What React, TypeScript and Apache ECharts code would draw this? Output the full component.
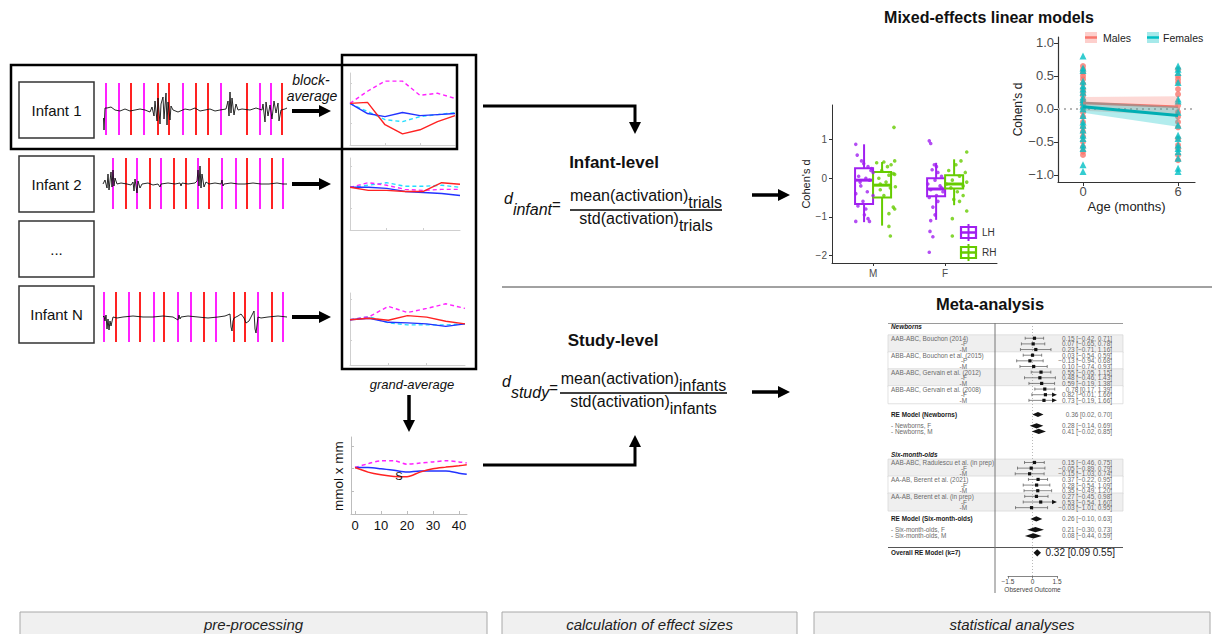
import React, { useEffect, useRef } from "react";
import * as echarts from "echarts";

const FONT = "'Liberation Sans', Arial, Helvetica, sans-serif";
const MAGENTA = "#FF22FF";
const RED = "#FF2222";
const BLUE = "#2233FF";
const CYAN = "#22DDFF";
const PURPLE = "#A020F0";
const GREEN = "#66CC00";
const MALE = "#F8766D";
const FEMALE = "#00BFC4";

// ---------------- pre-processing: raw signals ----------------
const infantLabels = ["Infant 1", "Infant 2", "...", "Infant N"];
// stimulus onsets (s) and condition (A = magenta, B = red)
const onsets1 = [2.3, 16, 27.3, 41, 54.7, 66, 79.3, 93, 104.3, 117.7, 143.3, 156.7, 167.7, 178.7];
const conds1 = ["A", "A", "B", "A", "B", "B", "A", "B", "B", "A", "B", "A", "A", "B"];
const onsets2 = [9.7, 22.7, 33.7, 47, 58, 71, 82.3, 95, 105.7, 119, 132.3, 143.7, 157, 168.7, 179.7];
const conds2 = ["A", "B", "A", "B", "A", "B", "B", "A", "B", "A", "A", "B", "A", "B", "A"];
const onsetsN = [1, 12.3, 25.3, 36.7, 50.3, 61, 74.7, 88, 101, 113, 130.3, 142, 154.7, 168.7, 179.7];
const condsN = ["A", "B", "A", "B", "A", "B", "A", "A", "B", "A", "B", "B", "A", "B", "A"];

const signal1 = [[0.5, -8], [1, -20], [2, 2], [4, 2], [8, 3], [12, 0], [17, -1], [22, 1], [27, -1], [32, 0], [37, 1], [42, 0], [47, -2], [49, 3], [51, -6], [52, 9], [54, -11], [55, 12], [57, -14], [58, 6], [60, 13], [61, -9], [63, 17], [64, -15], [65, 8], [67, -10], [68, 4], [70, 0], [75, -2], [82, 1], [87, 0], [92, 2], [97, -1], [102, 0], [107, 1], [112, -1], [117, 0], [123, 1], [125, 9], [126, -6], [127, 18], [128, -3], [129, 12], [131, -5], [133, 6], [135, 0], [139, 1], [147, 0], [153, 2], [159, 0], [160, 6], [162, -12], [163, 8], [165, -6], [167, 5], [169, -9], [171, 9], [173, -3], [175, 7], [176, -11], [178, 0], [182, 1], [184, 2]];
const signal2 = [[0, 0], [2, 4], [4, -4], [5, 10], [6, -6], [8, 12], [9, -3], [10, 14], [11, -2], [12, 6], [14, 0], [18, 1], [24, 0], [28, -1], [30, 2], [31, -7], [32, 5], [34, -9], [35, 3], [37, -4], [39, 0], [45, 1], [50, -1], [55, 0], [57, -3], [58, 0], [65, 1], [72, 0], [77, 1], [78, -2], [79, 1], [85, 0], [92, 1], [94, 3], [95, 14], [96, -2], [97, 18], [98, -4], [99, 10], [101, -3], [103, 2], [106, 0], [112, 1], [118, 0], [119, 4], [120, -2], [121, 0], [128, 1], [135, 0], [142, 0], [150, 1], [158, 0], [166, 0], [174, 1], [180, 0], [184, 0]];
const signalN = [[0, 0], [1, 1], [2, -4], [3, 2], [4, -12], [5, -2], [6, -13], [7, -4], [8, -9], [10, 0], [14, -1], [20, 0], [30, 1], [40, 0], [50, 0], [60, 1], [70, 0], [75, -3], [76, 2], [77, -2], [78, 0], [85, 1], [95, 0], [105, -1], [115, 0], [122, 1], [127, 3], [128, -10], [129, -14], [130, -4], [131, -1], [135, 1], [138, 3], [141, -1], [143, -6], [146, -4], [149, 2], [151, 6], [152, -12], [153, -16], [154, -8], [155, 0], [158, -1], [165, 0], [175, 1], [184, 0]];

// ---------------- block averages ----------------
const blockTime = [0, 5, 10, 15, 20, 25, 30];
const block1Red = [0, 0.1, -2.1, -3.0, -2.6, -1.8, -1.2];
const block1Blue = [0, -1.0, -1.3, -0.9, -1.2, -1.1, -1.0];
const block1Cyan = [0, -0.8, -1.6, -1.8, -1.3, -1.1, -0.9];
const block1Magenta = [0, 1.2, 2.2, 2.2, 0.8, 1.0, 0.5];
const block2Red = [0, -0.3, -0.3, -0.4, -0.4, 0.45, 0.3];
const block2Blue = [0, 0, -0.1, -0.4, -0.5, -0.6, -0.8];
const block2Cyan = [0, 0.2, 0.45, 0.1, 0.1, 0.2, 0];
const block2Magenta = [0, 0.45, 0.2, -0.2, -0.3, -0.2, -0.2];
const blockNRed = [0, 0.15, -0.05, 0.4, 0.25, -0.15, -0.4];
const blockNBlue = [0, 0.15, -0.25, -0.3, -0.4, -0.65, -0.4];
const blockNCyan = [0, 0.3, -0.3, -0.5, -0.5, -0.5, -0.4];
const blockNMagenta = [0, 0.3, 1.3, 0.7, 1.1, 1.55, 1.1];

// ---------------- grand average ----------------
const grandTime = [0, 5, 10, 15, 20, 25, 30, 35, 40, 43];
const grandRed = [0.05, -0.15, -0.27, -0.34, -0.35, -0.15, 0.0, 0.07, 0.13, 0.17];
const grandBlue = [0.05, 0.05, 0.0, -0.07, -0.15, -0.1, -0.1, -0.1, -0.2, -0.25];
const grandMagenta = [0.05, 0.22, 0.35, 0.35, 0.2, 0.25, 0.3, 0.35, 0.3, 0.25];
const grandTicks = [0, 10, 20, 30, 40];

// ---------------- infant-level boxplot ----------------
const boxCats = ["M", "F"];
const boxHemis = ["LH", "RH"];
// [min, Q1, median, Q3, max] per category
const boxLH = [[-1.14, -0.67, -0.05, 0.26, 0.88], [-1.08, -0.47, -0.28, 0.0, 0.4]];
const boxRH = [[-1.23, -0.5, -0.18, 0.16, 0.42], [-0.7, -0.27, -0.15, 0.08, 0.49]];
const jitterLH = [[0.76, 0.88], [0.78, 0.6], [0.84, 0.45], [0.87, 0.38], [0.93, 0.3], [0.97, 0.2], [0.8, 0.05], [0.9, 0.0], [0.95, -0.05], [1.0, 0.15], [0.83, -0.2], [0.92, -0.35], [1.0, -0.45], [0.76, -0.4], [0.86, -0.6], [0.79, -0.72], [0.9, -0.8], [0.88, -0.95], [0.93, -1.05], [0.95, -1.12], [0.76, -1.12], [0.98, 0.25], [0.82, -0.1],
  [1.78, 0.97], [1.8, 0.9], [1.85, 0.35], [1.88, 0.3], [1.82, 0.22], [1.9, 0.15], [1.95, 0.05], [1.86, -0.05], [1.76, -0.15], [1.93, -0.2], [1.8, -0.3], [1.97, -0.35], [1.88, -0.45], [1.78, -0.5], [1.83, -0.75], [1.86, -0.95], [1.8, -1.1], [1.79, -1.38], [1.83, -1.52], [1.78, -1.92], [1.95, -0.25], [1.9, -0.6]];
const jitterRH = [[1.29, 1.32], [1.05, 0.4], [1.15, 0.42], [1.25, 0.35], [1.3, 0.45], [1.2, 0.3], [1.12, 0.2], [1.28, 0.12], [1.08, 0.0], [1.22, 0.08], [1.3, 0.1], [1.18, -0.1], [1.1, -0.3], [1.24, -0.25], [1.31, -0.22], [1.15, -0.45], [1.28, -0.75], [1.3, -0.8], [1.22, -0.92], [1.22, -1.25], [1.24, -1.5], [1.1, -0.15],
  [2.3, 0.68], [2.22, 0.45], [2.15, 0.35], [2.05, 0.2], [2.28, 0.15], [2.2, 0.05], [2.1, -0.05], [2.3, -0.1], [2.25, -0.2], [2.08, -0.25], [2.17, -0.35], [2.25, -0.45], [2.12, -0.55], [2.3, -0.85], [2.1, -1.05], [2.1, -1.5], [2.2, -0.6], [2.02, -0.15]];
const boxYTicks = [-2, -1, 0, 1];

// ---------------- mixed-effects ----------------
const ages = [0, 6];
const maleFit = [0.09, 0.03];
const maleLower = [-0.03, -0.1];
const maleUpper = [0.18, 0.19];
const femaleFit = [0.03, -0.1];
const femaleLower = [-0.06, -0.27];
const femaleUpper = [0.11, 0.03];
const maleAge0 = [0.65, 0.6, 0.55, 0.5, 0.45, 0.38, 0.3, 0.25, 0.2, 0.12, 0.08, 0.02, -0.05, -0.12, -0.2, -0.28, -0.35, -0.42, -0.5, -0.58, -0.65, -0.7];
const femaleAge0 = [0.8, 0.62, 0.58, 0.42, 0.35, 0.3, 0.25, 0.18, 0.14, 0.1, 0.04, 0.0, -0.1, -0.2, -0.25, -0.32, -0.4, -0.45, -0.55, -0.6, -0.85, -0.95];
const maleAge6 = [0.6, 0.5, 0.45, 0.4, 0.3, 0.22, 0.05, -0.05, -0.12, -0.2, -0.28, -0.45, -0.55, -0.6, -0.7, -0.78];
const femaleAge6 = [0.65, 0.6, 0.55, 0.4, 0.15, 0.12, -0.05, -0.25, -0.4, -0.45, -0.55, -0.6, -0.65, -0.75, -0.9, -0.95];
const mixedYTicks = [-1, -0.5, 0, 0.5, 1];

// ---------------- meta-analysis ----------------
const newbornStudies = ["AAB-ABC, Bouchon (2014)", "ABB-ABC, Bouchon et al. (2015)", "AAB-ABC, Gervain et al. (2012)", "ABB-ABC, Gervain et al. (2008)"];
const newbornEffects = [[0.15, -0.42, 0.71], [0.07, -0.65, 0.78], [0.23, -0.71, 1.16], [0.03, -0.54, 0.59], [-0.13, -0.94, 0.68], [0.10, -0.74, 0.93], [0.55, -0.05, 1.15], [0.48, -0.46, 1.43], [0.59, -0.19, 1.38], [0.78, 0.17, 1.39], [0.82, -0.01, 1.66], [0.73, -0.19, 1.66]];
const sixStudies = ["AAB-ABC, Radulescu et al. (in prep)", "AA-AB, Berent et al. (2021)", "AA-AB, Berent et al. (in prep)"];
const sixEffects = [[0.15, -0.46, 0.75], [-0.05, -0.89, 0.79], [-0.15, -1.03, 0.74], [0.37, -0.22, 0.95], [0.28, -0.54, 1.09], [0.35, -0.49, 1.20], [0.27, -0.45, 0.98], [0.53, -0.54, 1.60], [-0.03, -1.01, 0.95]];
const reNewborns = [0.36, 0.02, 0.70];
const newbornsF = [0.28, -0.14, 0.69];
const newbornsM = [0.41, -0.02, 0.85];
const reSix = [0.26, -0.10, 0.63];
const sixF = [0.21, -0.30, 0.73];
const sixM = [0.08, -0.44, 0.59];
const overallRE = [0.32, 0.09, 0.55];
const forestTicks = [-1.5, 0, 1.5];
const ALIM = [-1.5, 1.5];

const stageLabels = ["pre-processing", "calculation of effect sizes", "statistical analyses"];

// ------------------------------------------------------------
const minus = (s: string) => s.replace(/-/g, "\u2212");
const f2 = (v: number) => minus(v.toFixed(2));

let measureCtx: CanvasRenderingContext2D | null = null;
function measure(text: string, size: number, style = "normal") {
  if (!measureCtx) measureCtx = document.createElement("canvas").getContext("2d");
  if (!measureCtx) return text.length * size * 0.5;
  measureCtx.font = `${style} normal ${size}px ${FONT}`;
  return measureCtx.measureText(text).width;
}

type FRow = { row: number; label: string; kind: string; est: number; lo: number; hi: number; right?: boolean; bold?: boolean; italic?: boolean; big?: boolean };

function buildForestRows(): FRow[] {
  const rows: FRow[] = [];
  rows.push({ row: 0, label: "Newborns", kind: "heading", est: 0, lo: 0, hi: 0, bold: true, italic: true });
  newbornStudies.forEach((s, i) => {
    [s, "-F", "-M"].forEach((lab, j) => {
      const e = newbornEffects[3 * i + j];
      rows.push({ row: 2 + 3 * i + j, label: lab, kind: "study", est: e[0], lo: e[1], hi: e[2], right: j > 0 });
    });
  });
  rows.push({ row: 15.5, label: "RE Model (Newborns)", kind: "diamond", est: reNewborns[0], lo: reNewborns[1], hi: reNewborns[2], bold: true });
  rows.push({ row: 17.5, label: "- Newborns, F", kind: "diamond", est: newbornsF[0], lo: newbornsF[1], hi: newbornsF[2] });
  rows.push({ row: 18.5, label: "- Newborns, M", kind: "diamond", est: newbornsM[0], lo: newbornsM[1], hi: newbornsM[2] });
  rows.push({ row: 22.5, label: "Six-month-olds", kind: "heading", est: 0, lo: 0, hi: 0, bold: true, italic: true });
  sixStudies.forEach((s, i) => {
    [s, "-F", "-M"].forEach((lab, j) => {
      const e = sixEffects[3 * i + j];
      rows.push({ row: 24 + 3 * i + j, label: lab, kind: "study", est: e[0], lo: e[1], hi: e[2], right: j > 0 });
    });
  });
  rows.push({ row: 34, label: "RE Model (Six-month-olds)", kind: "diamond", est: reSix[0], lo: reSix[1], hi: reSix[2], bold: true });
  rows.push({ row: 35.9, label: "- Six-month-olds, F", kind: "diamond", est: sixF[0], lo: sixF[1], hi: sixF[2] });
  rows.push({ row: 37, label: "- Six-month-olds, M", kind: "diamond", est: sixM[0], lo: sixM[1], hi: sixM[2] });
  rows.push({ row: 40, label: "Overall RE Model (k=7)", kind: "diamond", est: overallRE[0], lo: overallRE[1], hi: overallRE[2], bold: true, big: true });
  return rows;
}

function txt(x: number, y: number, text: string, o: any = {}) {
  const align = o.align || "left";
  const va = o.va || "middle";
  return {
    type: "text", x, y, rotation: o.rotation || 0, z: 50, silent: true,
    style: {
      text, fill: o.color || "#111", fontSize: o.size || 14, fontFamily: FONT,
      fontWeight: o.weight || "normal", fontStyle: o.style || "normal",
      align, textAlign: align, verticalAlign: va, textVerticalAlign: va,
    },
  };
}
const gline = (x1: number, y1: number, x2: number, y2: number, color = "#000", w = 1, dash?: number[]) => ({
  type: "line", z: 40, silent: true, shape: { x1, y1, x2, y2 }, style: { stroke: color, lineWidth: w, lineDash: dash || null },
});
const grect = (x: number, y: number, w: number, h: number, stroke: string, lw: number, fill = "none") => ({
  type: "rect", z: 30, silent: true, shape: { x, y, width: w, height: h }, style: { fill, stroke, lineWidth: lw },
});
const gpoly = (points: number[][], fill = "#000") => ({ type: "polygon", z: 41, silent: true, shape: { points }, style: { fill } });

function buildOption() {
  const grids: any[] = [];
  const xAxes: any[] = [];
  const yAxes: any[] = [];
  const series: any[] = [];
  const addGrid = (g: any, x: any, y: any) => {
    const idx = grids.length;
    grids.push({ ...g, containLabel: false, outerBoundsMode: "none" });
    xAxes.push({ splitLine: { show: false }, ...x, gridIndex: idx });
    yAxes.push({ splitLine: { show: false }, ...y, gridIndex: idx });
    return idx;
  };
  const hidden = (min: number, max: number, extra: any = {}) => ({ type: "value", show: false, min, max, ...extra });

  // ---- raw signal panels ----
  const sigDefs = [
    { top: 83, h: 52, min: -25, max: 27, on: onsets1, cond: conds1, sig: signal1 },
    { top: 158, h: 51, min: -25, max: 26, on: onsets2, cond: conds2, sig: signal2 },
    { top: 292, h: 50, min: -25, max: 25, on: onsetsN, cond: condsN, sig: signalN },
  ];
  sigDefs.forEach((d) => {
    const g = addGrid({ left: 103, top: d.top, width: 184, height: d.h }, hidden(0, 184), hidden(d.min, d.max));
    series.push({
      type: "line", xAxisIndex: g, yAxisIndex: g, data: [], silent: true, z: 1,
      markLine: {
        silent: true, symbol: ["none", "none"], label: { show: false }, z: 1,
        data: d.on.map((t, i) => ({ xAxis: t, lineStyle: { color: d.cond[i] === "A" ? MAGENTA : RED, width: 2, type: "solid" } })),
      },
    });
    series.push({ type: "line", xAxisIndex: g, yAxisIndex: g, data: d.sig, showSymbol: false, symbol: "none", silent: true, z: 10, lineStyle: { color: "#111", width: 0.9 } });
  });

  // ---- block-average panels ----
  const miniX = (max: number) => ({
    type: "value", min: 0, max,
    axisLine: { show: true, onZero: false, lineStyle: { color: "#CFCFCF", width: 1 } },
    axisTick: { show: true, inside: true, length: 2, customValues: [10, 20], lineStyle: { color: "#CFCFCF" } },
    axisLabel: { show: false },
  });
  const miniY = (min: number, max: number) => ({
    type: "value", min, max,
    axisLine: { show: true, onZero: false, lineStyle: { color: "#CFCFCF", width: 1 } },
    axisTick: { show: true, inside: true, length: 2, customValues: [-2, 0, 2], lineStyle: { color: "#CFCFCF" } },
    axisLabel: { show: false },
  });
  const blockDefs = [
    { left: 350, top: 73, w: 105, min: -4.1, max: 3.0, r: block1Red, b: block1Blue, c: block1Cyan, m: block1Magenta },
    { left: 350, top: 158, w: 110, min: -4.15, max: 2.85, r: block2Red, b: block2Blue, c: block2Cyan, m: block2Magenta },
    { left: 350, top: 293, w: 115, min: -4.4, max: 2.6, r: blockNRed, b: blockNBlue, c: blockNCyan, m: blockNMagenta },
  ];
  blockDefs.forEach((d) => {
    const g = addGrid({ left: d.left, top: d.top, width: d.w, height: 72 }, miniX(30), miniY(d.min, d.max));
    const mk = (vals: number[], color: string, dashed: boolean, z: number) => ({
      type: "line", xAxisIndex: g, yAxisIndex: g, silent: true, symbol: "none", z,
      data: blockTime.map((t, i) => [t, vals[i]]),
      lineStyle: { color, width: 1.4, type: dashed ? [4, 3] : "solid" },
    });
    series.push(mk(d.c, CYAN, true, 3), mk(d.m, MAGENTA, true, 3), mk(d.b, BLUE, false, 4), mk(d.r, RED, false, 5));
  });

  // ---- grand average ----
  {
    const g = addGrid(
      { left: 351, top: 437, width: 116, height: 77 },
      {
        type: "value", min: -1.54, max: 43.1,
        axisLine: { show: true, onZero: false, lineStyle: { color: "#BDBDBD", width: 1 } },
        axisTick: { show: true, inside: true, length: 3, customValues: grandTicks, lineStyle: { color: "#BDBDBD" } },
        axisLabel: { show: true, customValues: grandTicks, color: "#111", fontSize: 13, fontFamily: FONT, margin: 5 },
      },
      {
        type: "value", min: -2, max: 1.4,
        axisLine: { show: true, onZero: false, lineStyle: { color: "#BDBDBD", width: 1 } },
        axisTick: { show: true, inside: true, length: 3, customValues: [-1, 0, 1], lineStyle: { color: "#BDBDBD" } },
        axisLabel: { show: false },
      }
    );
    const mk = (vals: number[], color: string, dashed: boolean) => ({
      type: "line", xAxisIndex: g, yAxisIndex: g, silent: true, symbol: "none", smooth: 0.3,
      data: grandTime.map((t, i) => [t, vals[i]]),
      lineStyle: { color, width: 1.5, type: dashed ? [4, 3] : "solid" },
    });
    series.push(mk(grandMagenta, MAGENTA, true), mk(grandBlue, BLUE, false), mk(grandRed, RED, false));
  }

  // ---- boxplot (infant-level) ----
  {
    const g = addGrid(
      { left: 832, top: 105, width: 165, height: 158 },
      {
        type: "value", min: 0.43, max: 2.72,
        axisLine: { show: true, onZero: false, lineStyle: { color: "#333", width: 1 } },
        axisTick: { show: true, length: 3, customValues: [1, 2], lineStyle: { color: "#333" } },
        axisLabel: { show: true, customValues: [1, 2], formatter: (v: number) => boxCats[Math.round(v) - 1] || "", color: "#4D4D4D", fontSize: 10, fontFamily: FONT, margin: 5 },
      },
      {
        type: "value", min: -2.2, max: 1.9,
        name: "Cohen's d", nameLocation: "middle", nameGap: 19, nameTextStyle: { color: "#222", fontSize: 11, fontFamily: FONT },
        axisLine: { show: true, onZero: false, lineStyle: { color: "#333", width: 1 } },
        axisTick: { show: true, length: 3, customValues: boxYTicks, lineStyle: { color: "#333" } },
        axisLabel: { show: true, customValues: boxYTicks, formatter: (v: number) => minus(String(v)), color: "#4D4D4D", fontSize: 10, fontFamily: FONT, margin: 5 },
      }
    );
    const HALF = 0.125;
    const boxRender = (color: string) => (params: any, api: any) => {
      const x = api.value(0);
      const lo = api.value(1), q1 = api.value(2), med = api.value(3), q3 = api.value(4), hi = api.value(5);
      const tl = api.coord([x - HALF, q3]);
      const br = api.coord([x + HALF, q1]);
      const ml = api.coord([x - HALF, med]);
      const mr = api.coord([x + HALF, med]);
      const pHi = api.coord([x, hi]);
      const pLo = api.coord([x, lo]);
      return {
        type: "group",
        children: [
          { type: "line", shape: { x1: pHi[0], y1: pHi[1], x2: pHi[0], y2: tl[1] }, style: { stroke: color, lineWidth: 2 } },
          { type: "line", shape: { x1: pLo[0], y1: br[1], x2: pLo[0], y2: pLo[1] }, style: { stroke: color, lineWidth: 2 } },
          { type: "rect", shape: { x: tl[0], y: tl[1], width: br[0] - tl[0], height: br[1] - tl[1] }, style: { fill: "#FFFFFF", stroke: color, lineWidth: 2 } },
          { type: "line", shape: { x1: ml[0], y1: ml[1], x2: mr[0], y2: mr[1] }, style: { stroke: color, lineWidth: 3 } },
        ],
      };
    };
    const boxData = (stats: number[][], offset: number) => stats.map((s, i) => [i + 1 + offset, ...s]);
    series.push({ type: "custom", name: boxHemis[0], xAxisIndex: g, yAxisIndex: g, silent: true, z: 2, encode: { x: 0, y: [1, 2, 3, 4, 5] }, data: boxData(boxLH, -HALF), renderItem: boxRender(PURPLE) });
    series.push({ type: "custom", name: boxHemis[1], xAxisIndex: g, yAxisIndex: g, silent: true, z: 2, encode: { x: 0, y: [1, 2, 3, 4, 5] }, data: boxData(boxRH, HALF), renderItem: boxRender(GREEN) });
    series.push({ type: "scatter", xAxisIndex: g, yAxisIndex: g, silent: true, z: 4, symbolSize: 3.6, data: jitterLH, itemStyle: { color: PURPLE } });
    series.push({ type: "scatter", xAxisIndex: g, yAxisIndex: g, silent: true, z: 4, symbolSize: 3.6, data: jitterRH, itemStyle: { color: GREEN } });
  }

  // ---- mixed-effects ----
  {
    const g = addGrid(
      { left: 1058, top: 37, width: 137, height: 145 },
      {
        type: "value", min: -1.58, max: 7.07,
        name: "Age (months)", nameLocation: "middle", nameGap: 18, nameTextStyle: { color: "#222", fontSize: 13, fontFamily: FONT },
        axisLine: { show: true, onZero: false, lineStyle: { color: "#333", width: 1.2 } },
        axisTick: { show: true, length: 4, customValues: ages, lineStyle: { color: "#333" } },
        axisLabel: { show: true, customValues: ages, color: "#4D4D4D", fontSize: 13, fontFamily: FONT, margin: 3 },
      },
      {
        type: "value", min: -1.11, max: 1.09,
        name: "Cohen's d", nameLocation: "middle", nameGap: 32, nameTextStyle: { color: "#222", fontSize: 12, fontFamily: FONT },
        axisLine: { show: true, onZero: false, lineStyle: { color: "#333", width: 1.2 } },
        axisTick: { show: true, length: 4, customValues: mixedYTicks, lineStyle: { color: "#333" } },
        axisLabel: { show: true, customValues: mixedYTicks, formatter: (v: number) => minus(v.toFixed(1)), color: "#4D4D4D", fontSize: 13, fontFamily: FONT, margin: 4 },
      }
    );
    const pairs = (vals: number[]) => ages.map((a, i) => [a, vals[i]]);
    const ribbon = (lo: number[], up: number[], fill: string, z: number) => ({
      type: "custom", xAxisIndex: g, yAxisIndex: g, silent: true, z,
      encode: { x: [0, 3], y: [1, 2, 4, 5] },
      data: ages.slice(1).map((a, i) => [ages[i], lo[i], up[i], a, lo[i + 1], up[i + 1]]),
      renderItem: (params: any, api: any) => {
        const pts = [
          api.coord([api.value(0), api.value(2)]),
          api.coord([api.value(3), api.value(5)]),
          api.coord([api.value(3), api.value(4)]),
          api.coord([api.value(0), api.value(1)]),
        ];
        return { type: "polygon", shape: { points: pts }, style: { fill } };
      },
    });
    series.push({
      type: "line", xAxisIndex: g, yAxisIndex: g, data: [], silent: true, z: 1,
      markLine: { silent: true, symbol: ["none", "none"], label: { show: false }, z: 1, data: [{ yAxis: 0 }], lineStyle: { color: "#B5B5B5", width: 2, type: [2, 4] } },
    });
    series.push({ type: "scatter", xAxisIndex: g, yAxisIndex: g, silent: true, z: 3, symbol: "circle", symbolSize: 6, itemStyle: { color: MALE }, data: [...maleAge0.map((v) => [ages[0], v]), ...maleAge6.map((v) => [ages[1], v])] });
    series.push({ type: "scatter", xAxisIndex: g, yAxisIndex: g, silent: true, z: 3, symbol: "triangle", symbolSize: 7, itemStyle: { color: FEMALE }, data: [...femaleAge0.map((v) => [ages[0], v]), ...femaleAge6.map((v) => [ages[1], v])] });
    series.push(ribbon(maleLower, maleUpper, "rgba(248,118,109,0.28)", 4));
    series.push({ type: "line", xAxisIndex: g, yAxisIndex: g, silent: true, symbol: "none", z: 5, data: pairs(maleFit), lineStyle: { color: MALE, width: 2.5 } });
    series.push(ribbon(femaleLower, femaleUpper, "rgba(0,191,196,0.3)", 6));
    series.push({ type: "line", xAxisIndex: g, yAxisIndex: g, silent: true, symbol: "none", z: 7, data: pairs(femaleFit), lineStyle: { color: "#00AEB3", width: 3 } });
  }

  // ---- forest plot ----
  const forestRows = buildForestRows();
  {
    const g = addGrid({ left: 888, top: 323, width: 235, height: 253 }, hidden(-8.82, 5.57), hidden(-0.7, 44.1, { inverse: true }));
    const blocks: number[][] = [];
    newbornStudies.forEach((_, i) => blocks.push([0, 2 + 3 * i - 0.6, 2 + 3 * i + 2.6, i % 2 === 0 ? 1 : 0]));
    sixStudies.forEach((_, i) => blocks.push([0, 24 + 3 * i - 0.6, 24 + 3 * i + 2.6, i % 2 === 0 ? 1 : 0]));
    series.push({
      type: "custom", xAxisIndex: g, yAxisIndex: g, silent: true, z: 1, encode: { x: 0, y: [1, 2] }, data: blocks,
      renderItem: (params: any, api: any) => {
        const cs = params.coordSys;
        const y0 = api.coord([0, api.value(1)])[1];
        const y1 = api.coord([0, api.value(2)])[1];
        return { type: "rect", shape: { x: cs.x, y: y0, width: cs.width, height: y1 - y0 }, style: { fill: api.value(3) ? "#EFEFEF" : "#FFFFFF", stroke: "#D6D6D6", lineWidth: 0.7 } };
      },
      markLine: {
        silent: true, symbol: ["none", "none"], label: { show: false }, z: 2,
        data: [
          { xAxis: 0, lineStyle: { color: "#A8A8A8", width: 0.8, type: [1, 2] } },
          { yAxis: 39, lineStyle: { color: "#555", width: 1, type: "solid" } },
          { yAxis: -0.65, lineStyle: { color: "#9A9A9A", width: 1, type: "solid" } },
        ],
      },
    });
    series.push({
      type: "custom", xAxisIndex: g, yAxisIndex: g, silent: true, z: 5, encode: { x: 0, y: 1 },
      data: forestRows.map((r) => [r.est, r.row]),
      renderItem: (params: any, api: any) => {
        const r = forestRows[params.dataIndex];
        const cs = params.coordSys;
        const y = api.coord([0, r.row])[1];
        const kids: any[] = [];
        const t = (x: number, text: string, align: string, size: number, fill: string, weight = "normal", fstyle = "normal") => ({
          type: "text", x, y,
          style: { text, fill, fontSize: size, fontFamily: FONT, fontWeight: weight, fontStyle: fstyle, align, textAlign: align, verticalAlign: "middle", textVerticalAlign: "middle" },
        });
        const labColor = r.bold || r.kind === "heading" ? "#1A1A1A" : "#6A6A6A";
        kids.push(t(r.right ? cs.x + 79 : cs.x + 3, r.label, r.right ? "right" : "left", 6.4, labColor, r.bold ? "bold" : "normal", r.italic ? "italic" : "normal"));
        if (r.kind === "study") {
          const lo = Math.max(r.lo, ALIM[0]);
          const hi = Math.min(r.hi, ALIM[1]);
          const xl = api.coord([lo, r.row])[0];
          const xh = api.coord([hi, r.row])[0];
          const xe = api.coord([r.est, r.row])[0];
          kids.push({ type: "line", shape: { x1: xl, y1: y, x2: xh, y2: y }, style: { stroke: "#555", lineWidth: 0.7 } });
          if (r.lo >= ALIM[0]) kids.push({ type: "line", shape: { x1: xl, y1: y - 1.5, x2: xl, y2: y + 1.5 }, style: { stroke: "#555", lineWidth: 0.7 } });
          else kids.push({ type: "polygon", shape: { points: [[xl + 4.5, y - 2.2], [xl + 4.5, y + 2.2], [xl, y]] }, style: { fill: "#111" } });
          if (r.hi <= ALIM[1]) kids.push({ type: "line", shape: { x1: xh, y1: y - 1.5, x2: xh, y2: y + 1.5 }, style: { stroke: "#555", lineWidth: 0.7 } });
          else kids.push({ type: "polygon", shape: { points: [[xh - 4.5, y - 2.2], [xh - 4.5, y + 2.2], [xh, y]] }, style: { fill: "#111" } });
          kids.push({ type: "rect", shape: { x: xe - 1.6, y: y - 1.6, width: 3.2, height: 3.2 }, style: { fill: "#111" } });
        } else if (r.kind === "diamond") {
          const xl = api.coord([r.lo, r.row])[0];
          const xh = api.coord([r.hi, r.row])[0];
          const xe = api.coord([r.est, r.row])[0];
          const hh = r.big ? 3.6 : 2.6;
          kids.push({ type: "polygon", shape: { points: [[xl, y], [xe, y - hh], [xh, y], [xe, y + hh]] }, style: { fill: "#111" } });
        }
        if (r.kind !== "heading") {
          const ci = r.big ? `${f2(r.est)} [${f2(r.lo)} ${f2(r.hi)}]` : `${f2(r.est)} [${f2(r.lo)}, ${f2(r.hi)}]`;
          kids.push(t(cs.x + cs.width - (r.big ? 8 : 11), ci, "right", r.big ? 10 : 6.4, r.big ? "#222" : "#6A6A6A"));
        }
        return { type: "group", children: kids };
      },
    });
    addGrid(
      { left: 1008, top: 566, width: 49, height: 10 },
      {
        type: "value", min: ALIM[0], max: ALIM[1], position: "bottom",
        name: "Observed Outcome", nameLocation: "middle", nameGap: 10, nameTextStyle: { color: "#444", fontSize: 6.5, fontFamily: FONT },
        axisLine: { show: true, onZero: false, lineStyle: { color: "#666", width: 0.8 } },
        axisTick: { show: true, length: 2.5, customValues: forestTicks, lineStyle: { color: "#666", width: 0.8 } },
        axisLabel: { show: true, customValues: forestTicks, formatter: (v: number) => minus(String(v)), color: "#444", fontSize: 6.5, fontFamily: FONT, margin: 2 },
      },
      hidden(0, 1)
    );
  }

  // ---- graphics: boxes, arrows, formulas, titles ----
  const el: any[] = [];
  const boxYs = [[82, 56], [156, 56], [221, 56], [286, 57]];
  boxYs.forEach(([y, h], i) => {
    el.push(grect(19, y, 75, h, "#333", 1.5, "#fff"));
    el.push(txt(56.5, y + h / 2, infantLabels[i], { align: "center", size: 15, color: "#111" }));
  });
  el.push(grect(11, 65, 446, 84, "#000", 2.5));
  el.push(grect(342, 55, 134, 314, "#000", 2.5));
  const arrowRight = (x1: number, x2: number, y: number, w = 3.5, hh = 6, hl = 12) => {
    el.push(gline(x1, y, x2 - hl + 1, y, "#000", w));
    el.push(gpoly([[x2 - hl, y - hh], [x2 - hl, y + hh], [x2, y]]));
  };
  [111, 184, 317].forEach((y) => arrowRight(292, 331, y, 4, 6, 12));
  el.push(txt(311, 80, "block-", { align: "center", size: 14, style: "italic" }));
  el.push(txt(312, 96, "average", { align: "center", size: 14, style: "italic" }));
  el.push(txt(412, 384, "grand-average", { align: "center", size: 13, style: "italic" }));
  el.push(gline(409, 395, 409, 421, "#000", 3.5));
  el.push(gpoly([[403, 420], [415, 420], [409, 432]]));
  el.push(txt(338, 476, "mmol x mm", { align: "center", size: 13.5, rotation: Math.PI / 2 }));
  el.push(txt(399, 476, "S", { align: "center", size: 11 }));

  // fraction helper: main text followed by a lowered subscript, centred on the bar
  const FS = 16;
  const fracPart = (cx: number, y: number, main: string, sub: string) => {
    const wm = measure(main, FS);
    const ws = measure(sub, FS);
    const x0 = cx - (wm + ws) / 2;
    el.push(txt(x0, y, main, { size: FS }));
    el.push(txt(x0 + wm, y + 7, sub, { size: FS }));
  };
  const formula = (x: number, yMid: number, sub: string, bar: number[], num: string[], den: string[]) => {
    el.push(txt(x, yMid - 6, "d", { size: 16, style: "italic" }));
    const wd = measure("d", 16, "italic");
    el.push(txt(x + wd, yMid + 5, sub, { size: 16, style: "italic" }));
    const ws = measure(sub, 16, "italic");
    el.push(txt(x + wd + ws, yMid, "=", { size: 15 }));
    const cx = (bar[0] + bar[1]) / 2;
    el.push(gline(bar[0], yMid + 6, bar[1], yMid + 6, "#000", 1.5));
    fracPart(cx, yMid - 9, num[0], num[1]);
    fracPart(cx, yMid + 14, den[0], den[1]);
  };

  // infant-level arrow
  el.push({ type: "polyline", z: 40, silent: true, shape: { points: [[483, 106], [635, 106], [635, 124]] }, style: { stroke: "#000", lineWidth: 3, fill: null } });
  el.push(gpoly([[629, 122], [641, 122], [635, 134]]));
  el.push(txt(614, 162, "Infant-level", { align: "center", size: 17, weight: "bold" }));
  formula(504, 204, "infant", [570, 722], ["mean(activation)", "trials"], ["std(activation)", "trials"]);
  arrowRight(752, 790, 195, 3.5, 6, 12);

  el.push(gline(502, 287, 1212, 287, "#444", 1));

  // study-level
  el.push({ type: "polyline", z: 40, silent: true, shape: { points: [[483, 465], [635, 465], [635, 446]] }, style: { stroke: "#000", lineWidth: 3, fill: null } });
  el.push(gpoly([[629, 447], [641, 447], [635, 435]]));
  el.push(txt(613, 340, "Study-level", { align: "center", size: 17, weight: "bold" }));
  formula(502, 387, "study", [560, 727], ["mean(activation)", "infants"], ["std(activation)", "infants"]);
  arrowRight(752, 790, 392, 3.5, 6, 12);

  // titles
  el.push(txt(989, 17, "Mixed-effects linear models", { align: "center", size: 16, weight: "bold" }));
  el.push(txt(990, 304, "Meta-analysis", { align: "center", size: 16.5, weight: "bold" }));

  // boxplot legend
  [[PURPLE, 226], [GREEN, 246]].forEach(([c, y]: any, i) => {
    el.push(gline(968.5, y - 2, 968.5, y + 15, c, 2));
    el.push(grect(961, y + 1, 15, 11, c, 2.2, "#fff"));
    el.push(gline(961, y + 6.5, 976, y + 6.5, c, 2.5));
    el.push(txt(982, y + 6.5, boxHemis[i], { size: 10, color: "#333" }));
  });
  // mixed legend
  [[MALE, "rgba(248,118,109,0.35)", 1085, "Males", 1103], [FEMALE, "rgba(0,191,196,0.35)", 1147, "Females", 1163]].forEach(([c, f, x, lab, tx]: any) => {
    el.push(grect(x, 32, 12, 11, "none", 0, f));
    el.push(gline(x, 37.5, x + 12, 37.5, c, 2.5));
    el.push(txt(tx, 38, lab, { size: 10.5, color: "#222" }));
  });

  // forest frame
  el.push(gline(995, 323, 995, 593, "#777", 1));

  // bottom stage labels
  const stageBoxes = [[20, 467], [502, 295], [814, 396]];
  stageBoxes.forEach(([x, w], i) => {
    el.push(grect(x, 612, w, 30, "#A8A8A8", 1, "#F0F0F0"));
    el.push(txt(x + w / 2, 624, stageLabels[i], { align: "center", size: 15, style: "italic", color: "#222" }));
  });

  return {
    animation: false,
    backgroundColor: "#ffffff",
    textStyle: { fontFamily: FONT },
    grid: grids,
    xAxis: xAxes,
    yAxis: yAxes,
    series,
    graphic: { elements: el },
  };
}

export default function App() {
  const ref = useRef<HTMLDivElement>(null);
  useEffect(() => {
    if (!ref.current) return;
    const chart = echarts.init(ref.current, null, { renderer: "svg" });
    chart.setOption(buildOption() as any);
    return () => chart.dispose();
  }, []);
  return <div ref={ref} style={{ position: "fixed", left: 0, top: 0, width: 1224, height: 634, background: "#ffffff" }} />;
}
